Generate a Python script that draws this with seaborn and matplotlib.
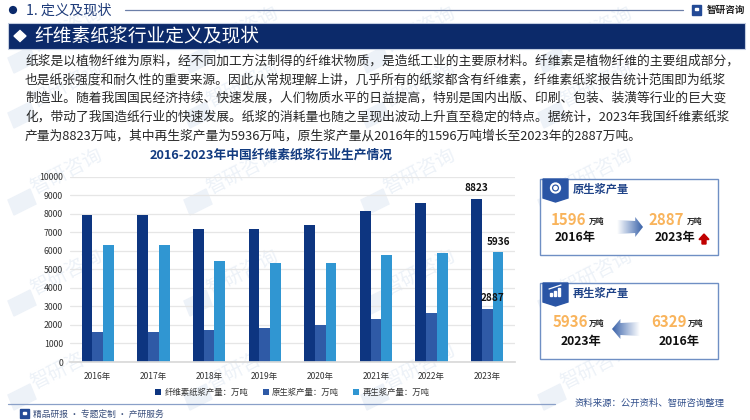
import matplotlib
matplotlib.use('Agg')
import matplotlib.pyplot as plt
from matplotlib.patches import Rectangle, Polygon, Circle
import numpy as np
import pandas as pd
import seaborn as sns

years = ['2016年', '2017年', '2018年', '2019年', '2020年', '2021年', '2022年', '2023年']
total_pulp = [7925, 7950, 7200, 7200, 7375, 8165, 8560, 8823]
virgin_pulp = [1596, 1630, 1720, 1860, 2000, 2320, 2625, 2887]
recycled_pulp = [6329, 6300, 5450, 5340, 5340, 5775, 5865, 5936]
series_names = ['纤维素纸浆产量：万吨', '原生浆产量：万吨', '再生浆产量：万吨']
bar_colors = ['#0d3580', '#2f5aa6', '#3096d2']
y_ticks = list(range(0, 11000, 1000))

paragraph = [
    '纸浆是以植物纤维为原料，经不同加工方法制得的纤维状物质，是造纸工业的主要原材料。纤维素是植物纤维的主要组成部分，',
    '也是纸张强度和耐久性的重要来源。因此从常规理解上讲，几乎所有的纸浆都含有纤维素，纤维素纸浆报告统计范围即为纸浆',
    '制造业。随着我国国民经济持续、快速发展，人们物质水平的日益提高，特别是国内出版、印刷、包装、装潢等行业的巨大变',
    '化，带动了我国造纸行业的快速发展。纸浆的消耗量也随之呈现出波动上升直至稳定的特点。据统计，2023年我国纤维素纸浆',
    '产量为8823万吨，其中再生浆产量为5936万吨，原生浆产量从2016年的1596万吨增长至2023年的2887万吨。',
]

sns.set_theme(style='white')
plt.rcParams['font.family'] = ['Noto Sans CJK SC', 'DejaVu Sans']

W, H = 750, 420
NAVY = '#0b2a6b'
ORANGE = '#f9b45c'
BORDER = '#6f8fc4'
MARK = '#edf2f8'

fig = plt.figure(figsize=(7.5, 4.2), dpi=100)

# page layer in pixel coordinates
bg = fig.add_axes([0, 0, 1, 1], zorder=0)
bg.set_xlim(0, W)
bg.set_ylim(H, 0)
bg.axis('off')

# faint watermarks
for wx in [67, 243, 420, 597]:
    for wy in [30, 85, 172, 273, 367]:
        bg.text(wx, wy, '智研咨询', fontsize=14, color=MARK, rotation=27,
                ha='center', va='center', zorder=0)
        lx, ly = wx - 45, wy + 30
        bg.add_patch(Polygon([[lx - 14, ly - 2], [lx + 8, ly - 13], [lx + 14, ly + 2], [lx - 8, ly + 13]],
                             color=MARK, zorder=0))

# header
bg.add_patch(Circle((13, 10), 3.4, color=NAVY))
bg.text(26, 10.5, '1. 定义及现状', fontsize=10.2, color='#1f3c7a', va='center')
bg.plot([125, 683], [9.5, 9.5], color='#6c7fa8', lw=0.9)
bg.add_patch(Rectangle((692, 5), 9, 10, color='#234a96'))
bg.add_patch(Rectangle((695, 8), 3, 2, color='white'))
bg.text(726, 10, '智研咨询', fontsize=6.9, color='#222222', va='center', ha='center', fontweight='bold')
bg.add_patch(Rectangle((8, 23), 737, 26, facecolor='#0c2a6a', edgecolor='#c3cde0', lw=0.8))
bg.add_patch(Polygon([[14, 36], [20, 30.5], [26, 36], [20, 41.5]], color='white'))
bg.text(34, 35.5, '纤维素纸浆行业定义及现状', fontsize=13.5, color='white', va='center')

# body text
line_y = [61, 80, 98.5, 117, 136]
for y, line in zip(line_y, paragraph):
    bg.text(25, y, line, fontsize=9.2, color='#262626', va='center')

# chart title
bg.text(271, 155, '2016-2023年中国纤维素纸浆行业生产情况', fontsize=9.2, color='#123b80',
        fontweight='bold', ha='center', va='center')

# bottom rule and footer
bg.plot([8, 555], [404, 404], color='#8aa0c8', lw=0.9)
bg.add_patch(Rectangle((20, 409), 9, 9, color='#234a96'))
bg.add_patch(Rectangle((23, 412), 3, 2, color='white'))
bg.text(33, 414, '精品研报 · 专题定制 · 产研服务', fontsize=6.3, color='#3a4f7c', va='center')
bg.text(575, 403, '资料来源：公开资料、智研咨询整理', fontsize=6.75, color='#32508c', va='center')


def gradient_arrow(x_start, x_tip, y):
    # light at the tail, dark at the head
    x_head = x_tip + (x_start - x_tip) * 0.3
    verts = [[x_start, y - 7], [x_head, y - 6], [x_head, y - 10], [x_tip, y],
             [x_head, y + 10], [x_head, y + 6], [x_start, y + 7]]
    poly = Polygon(verts, facecolor='none', edgecolor='none', zorder=3)
    bg.add_patch(poly)
    grad = np.linspace(0, 1, 64).reshape(1, -1)
    if x_tip < x_start:
        grad = grad[:, ::-1]
    cmap = sns.blend_palette(['#ffffff', '#9db2d6', '#3a62a8'], as_cmap=True)
    im = bg.imshow(grad, cmap=cmap, aspect='auto', zorder=3,
                   extent=[min(x_start, x_tip), max(x_start, x_tip), y + 11, y - 11])
    im.set_clip_path(poly)
    bg.set_xlim(0, W)
    bg.set_ylim(H, 0)


def card(y0, title, left, right, val_dy, year_dy):
    bg.add_patch(Rectangle((540, y0), 178, 76, facecolor='white', edgecolor=BORDER, lw=1, zorder=2))
    bg.add_patch(Polygon([[543, y0], [568, y0], [568, y0 + 19], [555.5, y0 + 23], [543, y0 + 19]],
                         color='#2a55a5', zorder=3))
    bg.text(573, y0 + 10.5, title, fontsize=8.1, color='#1f4388', fontweight='bold', va='center', zorder=4)
    for val_x, unit_x, year_x, val, yr in [left, right]:
        bg.text(val_x, y0 + val_dy, val, fontsize=10.8, color=ORANGE, fontweight='bold', ha='center', va='center', zorder=4)
        bg.text(unit_x, y0 + val_dy + 1, '万吨', fontsize=5.6, color='#222222', fontweight='bold', ha='center', va='center', zorder=4)
        bg.text(year_x, y0 + year_dy, yr, fontsize=8.8, color='#111111', fontweight='bold', ha='center', va='center', zorder=4)


card(179, '原生浆产量', (568, 597, 575, '1596', '2016年'), (666, 695, 675, '2887', '2023年'), 41, 59)
card(283, '再生浆产量', (570, 597, 581, '5936', '2023年'), (669, 696, 679, '6329', '2016年'), 39, 58)
gradient_arrow(617, 643, 227)
gradient_arrow(640, 612, 329)

# badge icons
bg.add_patch(Circle((555.5, 188), 4.6, facecolor='none', edgecolor='white', lw=1.5, zorder=4))
bg.add_patch(Circle((555.5, 188), 1.6, color='white', zorder=4))
for bx, bh in [(550, 3), (554, 5), (558, 8)]:
    bg.add_patch(Rectangle((bx, 296 - bh), 2.4, bh, color='white', zorder=4))
bg.plot([549, 555, 561], [289, 287, 285], color='white', lw=0.9, zorder=4)

# red up arrow
bg.add_patch(Polygon([[704, 234], [709, 239.5], [706, 239.5], [706, 244], [702, 244], [702, 239.5], [699, 239.5]],
                     color='#c00000', zorder=4))

# chart
df = pd.DataFrame({'year': years, series_names[0]: total_pulp,
                   series_names[1]: virgin_pulp, series_names[2]: recycled_pulp})
long_df = df.melt(id_vars='year', var_name='series', value_name='value')

ax = fig.add_axes([70 / W, 1 - 362 / H, 445 / W, (362 - 176.7) / H], zorder=1)
ax.patch.set_alpha(0)
sns.barplot(data=long_df, x='year', y='value', hue='series', palette=bar_colors,
            width=0.58, gap=0, saturation=1, dodge=True, legend=True, linewidth=0, ax=ax)
ax.set_ylim(0, 10000)
ax.set_xlim(-0.5, 7.5)
ax.set_yticks(y_ticks)
ax.set_xlabel('')
ax.set_ylabel('')
ax.grid(axis='y', color='#e6e6e6', lw=0.9)
ax.set_axisbelow(True)
sns.despine(ax=ax, left=True, bottom=False, top=True, right=True)
ax.spines['bottom'].set_color('#d9d9d9')
ax.tick_params(axis='y', labelsize=6.3, colors='#333333', length=0, pad=5)
ax.tick_params(axis='x', labelsize=6.1, colors='#333333', length=0, pad=7)

# data labels on the last year only
last = len(years) - 1
for cont, vals, dx in zip(ax.containers, [total_pulp, virgin_pulp, recycled_pulp], [0, 4, 0]):
    bar = cont[last]
    ax.annotate(str(vals[last]), (bar.get_x() + bar.get_width() / 2, vals[last]),
                xytext=(dx, 7.5), textcoords='offset points', ha='center', va='center',
                fontsize=7.2, fontweight='bold', color='#111111')

ax.legend(loc='upper center', bbox_to_anchor=(0.5, -0.1), ncol=3, frameon=False, fontsize=6.05,
          handlelength=0.7, handleheight=0.7, columnspacing=1.7, handletextpad=0.4, labelcolor='#333333')

fig.savefig('out.png', dpi=100)
